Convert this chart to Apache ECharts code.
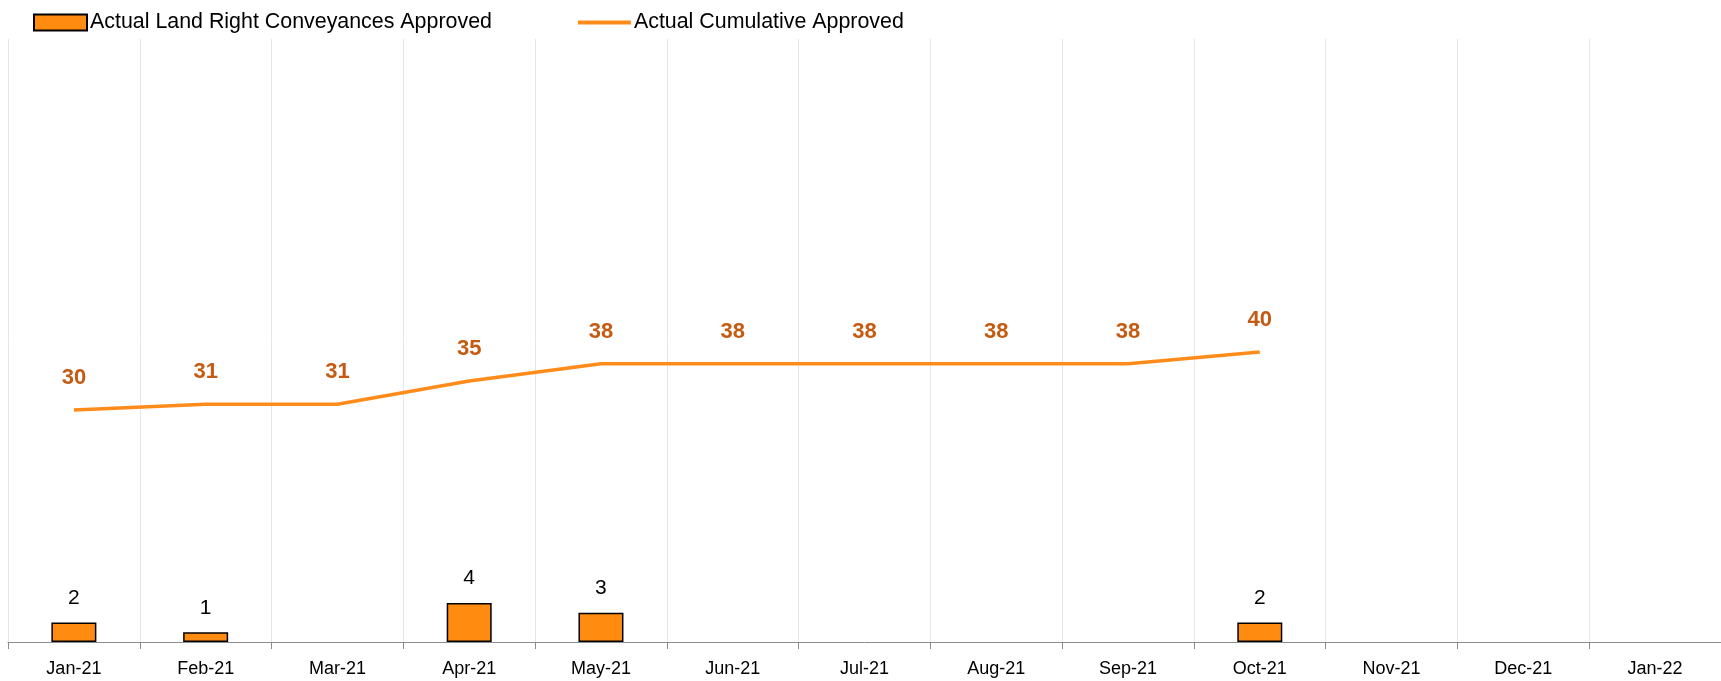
<!DOCTYPE html>
<html>
<head>
<meta charset="utf-8">
<script src="https://cdn.jsdelivr.net/npm/echarts@6/dist/echarts.min.js"></script>
<style>
  html, body { margin: 0; padding: 0; background: #ffffff; }
  #chart { width: 1721px; height: 681px; }
</style>
</head>
<body>
<div id="chart"></div>
<script>
// Monthly land right conveyances and the running total
const months = ['Jan-21', 'Feb-21', 'Mar-21', 'Apr-21', 'May-21', 'Jun-21', 'Jul-21',
                'Aug-21', 'Sep-21', 'Oct-21', 'Nov-21', 'Dec-21', 'Jan-22'];
const approvedMonthly = [2, 1, null, 4, 3, null, null, null, null, 2, null, null, null];
const approvedCumulative = [30, 31, 31, 35, 38, 38, 38, 38, 38, 40, null, null, null];

const barName = 'Actual Land Right Conveyances Approved';
const lineName = 'Actual Cumulative Approved';
const FONT = '"Liberation Sans", Arial, sans-serif';

const chart = echarts.init(document.getElementById('chart'), null, { renderer: 'canvas' });

chart.setOption({
  animation: false,
  backgroundColor: '#ffffff',
  textStyle: { fontFamily: FONT },
  legend: {
    left: 33,
    top: 12,
    padding: 0,
    itemWidth: 53,
    itemHeight: 16,
    itemGap: 86,
    textStyle: { fontFamily: FONT, fontSize: 21.4, color: '#000000', padding: [0, 0, 0, -2] },
    data: [
      { name: barName, icon: 'rect' },
      { name: lineName, icon: 'path://M0,0 L52,0 L52,4 L0,4 Z' }
    ]
  },
  grid: { left: 8, top: 39, width: 1716, height: 603, containLabel: false },
  xAxis: {
    type: 'category',
    data: months,
    boundaryGap: true,
    axisLine: { show: true, lineStyle: { color: '#8c8c8c', width: 1 } },
    axisTick: { show: true, interval: 0, length: 7, lineStyle: { color: '#8c8c8c' } },
    axisLabel: { interval: 0, margin: 18, fontSize: 18, color: '#000000', fontFamily: FONT },
    splitLine: { show: true, interval: 0, lineStyle: { color: '#e6e6e6', width: 1 } }
  },
  yAxis: [
    { type: 'value', min: 0, max: 62, show: false, splitLine: { show: false } },
    { type: 'value', min: -10, max: 94, show: false, splitLine: { show: false } }
  ],
  series: [
    {
      name: barName,
      type: 'bar',
      yAxisIndex: 0,
      data: approvedMonthly,
      barWidth: 45,
      itemStyle: { color: '#ff8c11', borderColor: '#000000', borderWidth: 1.5 },
      label: {
        show: true,
        position: 'top',
        distance: 14,
        fontSize: 21,
        color: '#000000',
        fontFamily: FONT
      },
      z: 2
    },
    {
      name: lineName,
      type: 'line',
      yAxisIndex: 1,
      data: approvedCumulative,
      symbol: 'circle',
      symbolSize: 0,
      showSymbol: true,
      connectNulls: false,
      lineStyle: { color: '#ff8c1a', width: 3.5 },
      itemStyle: { color: '#ff8c1a' },
      label: {
        show: true,
        position: 'top',
        distance: 21,
        fontSize: 22,
        fontWeight: 'bold',
        color: '#c55a11',
        fontFamily: FONT
      },
      z: 3
    }
  ]
});
</script>
</body>
</html>
